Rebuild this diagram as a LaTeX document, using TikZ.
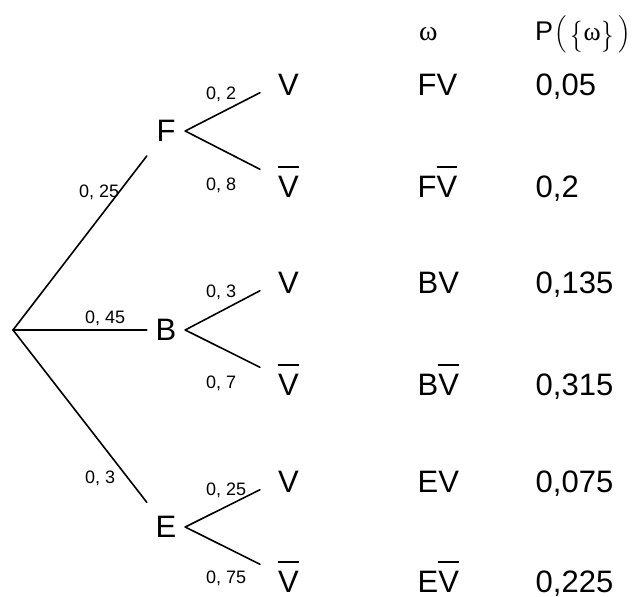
\documentclass[tikz,border=0pt]{standalone}
\usepackage{graphicx}
\usepackage{exscale}
\usepackage{fontspec}
\setmainfont{Liberation Sans}
\newfontfamily\timesrm{Liberation Serif}
% V with a bar over it
\newcommand\barV{\vbox{\hrule height 1.5pt\kern 8pt\hbox{V}}}
\newcommand\bigtext{\fontsize{31}{31}\selectfont}
\newcommand\smalltext{\fontsize{18}{18}\selectfont}
\newcommand\serifsize[1]{\timesrm\fontsize{#1}{#1}\selectfont}
% delimiter #2 at font size #1, tall enough for a height of #3
\newcommand\sdelim[3]{{\fontsize{#1}{#1}\selectfont\nulldelimiterspace=0pt
  $\left#2\vcenter{\hrule height #3 width 0pt}\right.$}}
% a brace stretched upwards a little
\newcommand\tallbrace[1]{\raisebox{-4.5pt}{\scalebox{1}[1.25]{\sdelim{27}{#1}{20pt}}}}

\tikzset{
  letter/.style={font=\bigtext, inner sep=0pt, minimum width=38pt, minimum height=50pt},
  leaf/.style={font=\bigtext, text height=30pt, text depth=0pt, inner xsep=18pt, inner ysep=-2.5pt, anchor=base west},
  cell/.style={font=\bigtext, inner sep=0pt, anchor=base west},
  prob/.style={font=\smalltext, inner sep=0pt, anchor=base west},
  branch/.style={line width=1.6pt, line cap=round}
}

\begin{document}
\begin{tikzpicture}[x=1pt, y=-1pt]
\useasboundingbox (0,0) rectangle (635,597);

% root and first level
\coordinate (O) at (13,330);
\node[letter] (F) at (166,131) {F};
\node[letter] (B) at (166,330) {B};
\node[letter] (E) at (166,527) {E};

\draw[branch] (O) -- (F);
\draw[branch] (O) -- (B);
\draw[branch] (O) -- (E);

% second level
\node[leaf] (FV)  at (260,95)  {V};
\node[leaf] (FVb) at (260,197) {\barV};
\node[leaf] (BV)  at (260,293) {V};
\node[leaf] (BVb) at (260,395) {\barV};
\node[leaf] (EV)  at (260,492) {V};
\node[leaf] (EVb) at (260,592) {\barV};

\draw[branch] (F.east) -- (FV.south west);
\draw[branch] (F.east) -- (FVb.north west);
\draw[branch] (B.east) -- (BV.south west);
\draw[branch] (B.east) -- (BVb.north west);
\draw[branch] (E.east) -- (EV.south west);
\draw[branch] (E.east) -- (EVb.north west);

% branch probabilities
\node[prob] (pF) at (79,197) {0, 25};
\node[prob] (pB) at (85,323) {0, 45};
\node[prob] (pE) at (85,483) {0, 3};
\node[prob] (pFV)  at (206,99)  {0, 2};
\node[prob] (pFVb) at (206,190) {0, 8};
\node[prob] (pBV)  at (206,297) {0, 3};
\node[prob] (pBVb) at (206,388) {0, 7};
\node[prob] (pEV)  at (206,495) {0, 25};
\node[prob] (pEVb) at (206,583) {0, 75};

% table of outcomes
\node[cell] (hOmega) at (419,40) {\serifsize{28}ω};
\node[cell] (hProb) at (535,40) {%
  {\fontsize{27}{27}\selectfont P}\kern1pt
  \sdelim{20}{(}{34pt}\kern4pt
  \tallbrace{\{}\kern0.5pt
  {\serifsize{26}ω}\kern1pt
  \tallbrace{\}}\kern4pt
  \sdelim{20}{)}{34pt}};

\node[cell] (wFV)  at (417.5,95)  {FV};
\node[cell] (wFVb) at (417.5,197) {F\barV};
\node[cell] (wBV)  at (417.5,293) {BV};
\node[cell] (wBVb) at (417.5,395) {B\barV};
\node[cell] (wEV)  at (417.5,492) {EV};
\node[cell] (wEVb) at (417.5,592) {E\barV};

\node[cell] (vFV)  at (535.5,95)  {0,05};
\node[cell] (vFVb) at (535.5,197) {0,2};
\node[cell] (vBV)  at (535.5,293) {0,135};
\node[cell] (vBVb) at (535.5,395) {0,315};
\node[cell] (vEV)  at (535.5,492) {0,075};
\node[cell] (vEVb) at (535.5,592) {0,225};
\end{tikzpicture}
\end{document}
